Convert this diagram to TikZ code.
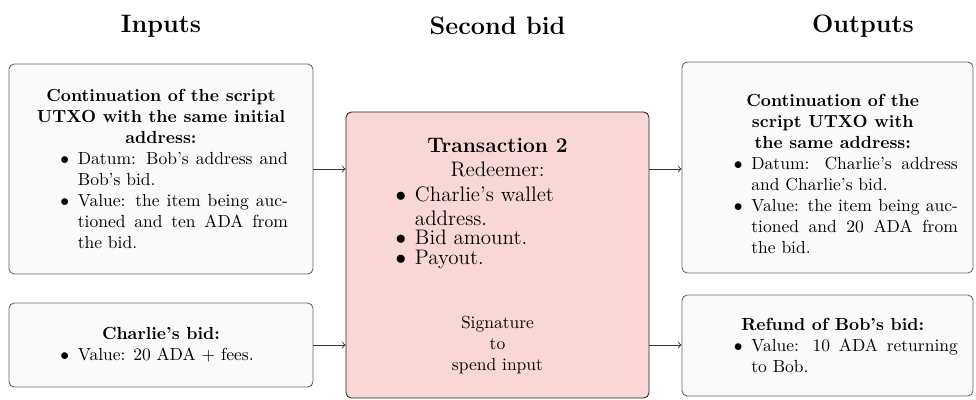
\documentclass[tikz,border=0pt]{standalone}
\usepackage{enumitem}
\setlist[itemize]{label=$\bullet$,leftmargin=25pt,itemsep=0pt,topsep=0pt,parsep=0pt,partopsep=0pt}
\definecolor{boxgray}{RGB}{250,250,250}
\definecolor{txpink}{RGB}{248,215,214}

\begin{document}
\begin{tikzpicture}[x=0.5714pt,y=-0.5714pt,
  every node/.style={inner sep=0pt},
  coltitle/.style={font=\Large\bfseries, anchor=base},
  iobox/.style={draw=black!60, fill=boxgray, rounded corners=3pt, line width=0.5pt},
  txbox/.style={draw=black!85, fill=txpink, rounded corners=3pt, line width=0.5pt,
                minimum width=173.1pt, minimum height=163.4pt},
  flow/.style={->, draw=black!80, line width=0.5pt}]
\useasboundingbox (0,0) rectangle (976,399);

% column headings
\node[coltitle] (hin)  at (161,32)   {Inputs};
\node[coltitle] (htx)  at (497.5,34) {Second bid};
\node[coltitle] (hout) at (863,32)   {Outputs};

% inputs
\node[iobox, minimum width=173.7pt, minimum height=120pt] (inA) at (161,169) {%
  \begin{minipage}{145pt}
  {\centering\bfseries Continuation of the script\\UTXO with the same initial\\address:\par}
  \begin{itemize}
  \item Datum: Bob's address and Bob's bid.
  \item Value: the item being auctioned and ten ADA from the bid.
  \end{itemize}
  \end{minipage}};

\node[iobox, minimum width=173.7pt, minimum height=48pt] (inB) at (161,345) {%
  \begin{minipage}{145pt}
  {\centering\bfseries Charlie's bid:\par}
  \begin{itemize}
  \item Value: 20 ADA $+$ fees.
  \end{itemize}
  \end{minipage}};

% the transaction
\node[txbox] (tx) at (497.5,255) {%
  \begin{minipage}[c][163.4pt][t]{173.1pt}
  \vspace*{14.7pt}
  {\centering\large\bfseries Transaction 2\\\mdseries Redeemer:\par}
  {\large\raggedright
  \begin{itemize}[leftmargin=39.4pt,itemsep=-3pt]
  \item Charlie's wallet\\address.
  \item Bid amount.
  \item Payout.
  \end{itemize}\par}
  \vspace{25pt}
  {\centering Signature\\to\\spend input\par}
  \end{minipage}};

% outputs
\node[iobox, minimum width=166.3pt, minimum height=120.6pt] (outA) at (827.5,167.5) {%
  \hspace*{6pt}\begin{minipage}{143pt}
  \vspace*{7.4pt}
  {\centering\bfseries Continuation of the\\script UTXO with\\the same address:\par}
  \begin{itemize}
  \item Datum: Charlie's address and Charlie's bid.
  \item Value: the item being auctioned and 20 ADA from the bid.
  \end{itemize}
  \end{minipage}};

\node[iobox, minimum width=166.3pt, minimum height=57.7pt] (outB) at (827.5,345.5) {%
  \hspace*{6pt}\begin{minipage}{143pt}
  {\centering\bfseries Refund of Bob's bid:\par}
  \begin{itemize}
  \item Value: 10 ADA returning to Bob.
  \end{itemize}
  \end{minipage}};

% connectors
\draw[flow] (inA.east) -- (inA.east -| tx.west);
\draw[flow] (inB.east) -- (inB.east -| tx.west);
\draw[flow] (inA.east -| tx.east) -- (inA.east -| outA.west);
\draw[flow] (inB.east -| tx.east) -- (inB.east -| outB.west);
\end{tikzpicture}
\end{document}
